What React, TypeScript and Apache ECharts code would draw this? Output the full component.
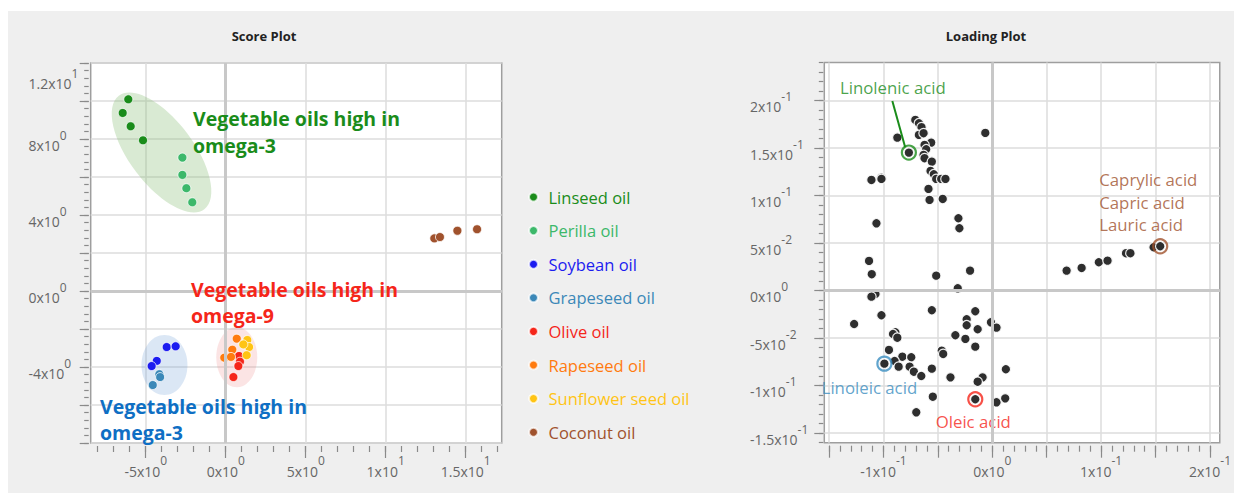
import React, { useEffect, useRef } from "react";
import * as echarts from "echarts";

const FONT = "'Open Sans', 'Noto Sans', sans-serif";

// ---------------- Score plot data ----------------
const oilNames = [
  "Linseed oil",
  "Perilla oil",
  "Soybean oil",
  "Grapeseed oil",
  "Olive oil",
  "Rapeseed oil",
  "Sunflower seed oil",
  "Coconut oil",
];
const oilColors = ["#1a8c1a", "#3cb86a", "#1c1cf0", "#3b88b8", "#f5261a", "#ff7b0f", "#ffc414", "#a0522d"];

const linseedOil = [[-6.09, 10.09], [-6.44, 9.37], [-5.94, 8.67], [-5.17, 7.93]];
const perillaOil = [[-2.71, 7.02], [-2.71, 6.11], [-2.46, 5.41], [-2.09, 4.67]];
const soybeanOil = [[-3.69, -2.95], [-3.13, -2.91], [-4.31, -3.68], [-4.63, -3.95]];
const grapeseedOil = [[-4.15, -4.38], [-4.1, -4.53], [-4.56, -4.95]];
const oliveOil = [[0.83, -3.42], [0.89, -3.72], [0.79, -3.95], [0.48, -4.53]];
const rapeseedOil = [[0.69, -2.51], [0.41, -3.09], [-0.09, -3.51], [0.33, -3.47]];
const sunflowerSeedOil = [[1.35, -2.58], [1.46, -2.95], [1.1, -2.81], [1.31, -3.38]];
const coconutOil = [[13.04, 2.77], [13.39, 2.84], [14.48, 3.17], [15.71, 3.25]];
const scoreSeriesData = [linseedOil, perillaOil, soybeanOil, grapeseedOil, oliveOil, rapeseedOil, sunflowerSeedOil, coconutOil];

// group ellipses: centre in data units
const ellipseCenters = [[-4.01, 7.29], [-3.83, -3.89], [0.69, -3.49]];

// ---------------- Loading plot data ----------------
const loadingPoints = [
  [-0.0707, 0.1797], [-0.0674, 0.1762], [-0.065, 0.172], [-0.0674, 0.1639], [-0.0631, 0.1657],
  [-0.0872, 0.1611], [-0.0064, 0.166], [-0.0561, 0.1558], [-0.0622, 0.1534], [-0.0607, 0.1488],
  [-0.0766, 0.1453], [-0.0631, 0.1428], [-0.0622, 0.1394], [-0.0555, 0.1358], [-0.0567, 0.126],
  [-0.0537, 0.1225], [-0.0515, 0.1176], [-0.0469, 0.1176], [-0.043, 0.1176], [-0.1018, 0.1189],
  [-0.111, 0.1165], [-0.1018, 0.1176], [-0.0586, 0.1071], [-0.0576, 0.0955], [-0.0455, 0.0965],
  [-0.1064, 0.0709], [-0.0311, 0.0762], [-0.0302, 0.0657],
  [-0.1132, 0.0313], [-0.1107, 0.0173], [-0.1073, -0.0035], [-0.111, -0.0063], [-0.0515, 0.0158],
  [-0.0204, 0.0211], [-0.0317, 0.0025], [-0.1269, -0.0351], [-0.1018, -0.0259], [-0.0555, -0.0206],
  [-0.0156, -0.0217], [-0.0235, -0.0301], [-0.0235, -0.0364], [-0.0134, -0.0406], [-0.0012, -0.0333],
  [0.0039, -0.0389], [-0.089, -0.0438], [-0.0912, -0.0456], [-0.0872, -0.0495], [-0.0339, -0.0469],
  [-0.0247, -0.0508], [-0.0156, -0.0589], [-0.0949, -0.0624], [-0.0464, -0.0632], [-0.0451, -0.0666],
  [-0.0826, -0.0695], [-0.0744, -0.0701], [-0.0991, -0.0768], [-0.0897, -0.074], [-0.086, -0.08],
  [-0.0759, -0.08], [-0.072, -0.0853], [-0.0652, -0.0898], [-0.0555, -0.0821], [-0.0384, -0.0912],
  [-0.0089, -0.0912], [-0.0134, -0.0958], [0.0125, -0.0827], [-0.0546, -0.1116], [-0.0156, -0.1143],
  [0.0039, -0.1175], [0.0119, -0.1133], [-0.0698, -0.128],
  [0.0683, 0.0211], [0.0821, 0.0239], [0.0979, 0.0299], [0.1059, 0.0316], [0.1229, 0.0394],
  [0.1269, 0.0394], [0.1482, 0.0457], [0.1543, 0.0467],
];

const acidNames = ["Linolenic acid", "Linoleic acid", "Oleic acid", "Caprylic acid\nCapric acid\nLauric acid"];
const acidPoints = [[-0.0766, 0.1453], [-0.0991, -0.0768], [-0.0156, -0.1143], [0.1543, 0.0467]];
const acidColors = ["#1a8c1a", "#3a8dc0", "#f5261a", "#a0522d"];
const linolenicLeader = [[-0.0918, 0.1996], [-0.08, 0.1509]];

// ---------------- Axes ----------------
const scoreXRange = [-8.44, 17.25];
const scoreYRange = [-8, 12];
const loadXRange = [-0.1543, 0.209];
const loadYRange = [-0.16, 0.2401];

const scoreXLabelValues = [-5, 0, 5, 10, 15];
const scoreXMajorTicks = [-5, 0, 5, 10, 15];
const scoreYLabelValues = [-4, 0, 4, 8, 12];
const scoreYMajorTicks = [-8, -6, -4, -2, 0, 2, 4, 6, 8, 10, 12];
const loadXLabelValues = [-0.1, 0, 0.1, 0.2];
const loadXMajorTicks = [-0.15, -0.1, -0.05, 0, 0.05, 0.1, 0.15, 0.2];
const loadYLabelValues = [-0.15, -0.1, -0.05, 0, 0.05, 0.1, 0.15, 0.2];
const loadYMajorTicks = [-0.15, -0.1, -0.05, 0, 0.05, 0.1, 0.15, 0.2];

function stepsBetween(lo: number, hi: number, step: number) {
  const out: number[] = [];
  const n = Math.round((hi - lo) / step);
  for (let i = 0; i <= n; i++) out.push(+(lo + i * step).toFixed(6));
  return out;
}
const scoreXMinorTicks = stepsBetween(-8, 17, 1);
const scoreYMinorTicks = stepsBetween(-8, 12, 0.4);
const loadXMinorTicks = stepsBetween(-0.15, 0.2, 0.01);
const loadYMinorTicks = stepsBetween(-0.16, 0.24, 0.01);

function sciParts(v: number): [string, string] {
  if (Math.abs(v) < 1e-12) return ["0", "0"];
  const e = Math.floor(Math.log10(Math.abs(v)) + 1e-9);
  const m = Math.round((v / Math.pow(10, e)) * 100) / 100;
  return [String(m), String(e)];
}

const LABEL_COLOR = "#666";
const TICK_COLOR = "#8a8a8a";
const GRID_COLOR = "#dcdcdc";

const richX = {
  b: { fontFamily: FONT, fontSize: 14, lineHeight: 14, padding: [13, 0, 0, 0], color: LABEL_COLOR },
  s: { fontFamily: FONT, fontSize: 12, lineHeight: 12, padding: [3, 0, 12, 0], color: LABEL_COLOR },
};
const richY = {
  b: { fontFamily: FONT, fontSize: 14, lineHeight: 14, padding: [12, 0, 0, 0], color: LABEL_COLOR },
  s: { fontFamily: FONT, fontSize: 12, lineHeight: 12, padding: [3, 0, 11, 0], color: LABEL_COLOR },
  bt: { fontFamily: FONT, fontSize: 14, lineHeight: 14, padding: [40, 0, 0, 0], color: LABEL_COLOR },
  st: { fontFamily: FONT, fontSize: 12, lineHeight: 12, padding: [31, 0, 11, 0], color: LABEL_COLOR },
};

const fmtX = (v: number) => {
  const [m, e] = sciParts(v);
  return `{b|${m}x10}{s|${e}}`;
};
const fmtY = (top: number) => (v: number) => {
  const [m, e] = sciParts(v);
  if (Math.abs(v - top) < 1e-9) return `{bt|${m}x10}{st|${e}}`;
  return `{b|${m}x10}{s|${e}}`;
};

function xAxes(gridIndex: number, range: number[], majors: number[], labels: number[], minors: number[], step: number) {
  return [
    {
      type: "value", gridIndex, min: range[0], max: range[1], position: "bottom", offset: 3,
      minInterval: step, maxInterval: step, splitNumber: 6,
      axisLine: { show: false, onZero: false },
      axisTick: { show: true, customValues: majors, length: 12, lineStyle: { color: TICK_COLOR, width: 1.2 } },
      axisLabel: { show: true, customValues: labels, formatter: fmtX, rich: richX, margin: 12 },
      splitLine: { show: true, lineStyle: { color: GRID_COLOR, width: 1.5 } },
    },
    {
      type: "value", gridIndex, min: range[0], max: range[1], position: "bottom", offset: 3,
      axisLine: { show: false, onZero: false },
      axisTick: { show: true, customValues: minors, length: 6, lineStyle: { color: TICK_COLOR, width: 1.2 } },
      axisLabel: { show: false },
      splitLine: { show: false },
    },
  ];
}
function yAxes(gridIndex: number, range: number[], majors: number[], labels: number[], minors: number[], step: number, margin: number, offset: number) {
  return [
    {
      type: "value", gridIndex, min: range[0], max: range[1], position: "left", offset,
      minInterval: step, maxInterval: step, splitNumber: 8,
      axisLine: { show: false, onZero: false },
      axisTick: { show: true, customValues: majors, length: 9, lineStyle: { color: TICK_COLOR, width: 1.2 } },
      axisLabel: { show: true, customValues: labels, formatter: fmtY(range[1] > 1 ? 12 : 999), rich: richY, margin, align: "left" },
      splitLine: { show: true, lineStyle: { color: GRID_COLOR, width: 1.5 } },
    },
    {
      type: "value", gridIndex, min: range[0], max: range[1], position: "left", offset,
      axisLine: { show: false, onZero: false },
      axisTick: { show: true, customValues: minors, length: 4.5, lineStyle: { color: TICK_COLOR, width: 1.2 } },
      axisLabel: { show: false },
      splitLine: { show: false },
    },
  ];
}

const ellipseStyles = [
  { rx: 71, ry: 32, tilt: 53, fill: "rgba(140,190,120,0.33)" },
  { rx: 23, ry: 30, tilt: 0, fill: "rgba(110,160,215,0.25)" },
  { rx: 20.5, ry: 30, tilt: 0, fill: "rgba(235,130,130,0.22)" },
];

const zeroLine = (xi: number, yi: number) => ({
  type: "line", xAxisIndex: xi, yAxisIndex: yi, data: [], z: 1, silent: true,
  markLine: {
    silent: true, symbol: ["none", "none"], label: { show: false },
    lineStyle: { color: "#c8c8c8", width: 3, type: "solid" },
    emphasis: { disabled: true },
    data: [{ xAxis: 0 }, { yAxis: 0 }],
  },
});

export default function App() {
  const ref = useRef<HTMLDivElement>(null);
  useEffect(() => {
    document.body.style.margin = "0";
    if (!ref.current) return;
    const chart = echarts.init(ref.current, undefined, { renderer: "svg" });

    const series: any[] = [];
    series.push({
      type: "custom", xAxisIndex: 0, yAxisIndex: 0, z: 1, silent: true,
      data: ellipseCenters,
      renderItem: (params: any, api: any) => {
        const st = ellipseStyles[params.dataIndex];
        const p = api.coord([api.value(0), api.value(1)]);
        return {
          type: "ellipse", x: p[0], y: p[1], rotation: (-st.tilt * Math.PI) / 180,
          shape: { cx: 0, cy: 0, rx: st.rx, ry: st.ry },
          style: { fill: st.fill },
        };
      },
    });
    series.push(zeroLine(0, 0));
    oilNames.forEach((name, i) => {
      series.push({
        name, type: "scatter", xAxisIndex: 0, yAxisIndex: 0, z: 3,
        data: scoreSeriesData[i], symbolSize: 9,
        itemStyle: { color: oilColors[i], borderColor: "rgba(255,255,255,0.75)", borderWidth: 1, opacity: 1 },
        emphasis: { disabled: true },
      });
    });
    series.push(zeroLine(2, 2));
    series.push({
      name: "Loadings", type: "scatter", xAxisIndex: 2, yAxisIndex: 2, z: 3,
      data: loadingPoints, symbolSize: 9.5,
      itemStyle: { color: "#2e2e2e", borderColor: "rgba(255,255,255,0.9)", borderWidth: 1.2, opacity: 1 },
      emphasis: { disabled: true },
    });
    const labelOffsets = [[-16, -65], [-15, 24], [-2, 22], [-61, -44]];
    series.push({
      name: "Acids", type: "scatter", xAxisIndex: 2, yAxisIndex: 2, z: 4, symbolSize: 14,
      emphasis: { disabled: true },
      data: acidPoints.map((p, i) => ({
        value: p,
        itemStyle: { color: "rgba(0,0,0,0)", borderColor: acidColors[i], borderWidth: 2.2 },
        label: {
          show: true, position: "inside", formatter: acidNames[i], color: acidColors[i],
          fontFamily: FONT, fontSize: 16.8, lineHeight: 22.5,
          offset: labelOffsets[i], align: i === 3 ? "left" : "center", verticalAlign: "middle",
        },
      })),
      markLine: {
        silent: true, symbol: ["none", "none"], label: { show: false },
        lineStyle: { color: acidColors[0], width: 2, type: "solid" },
        emphasis: { disabled: true },
        data: [[{ coord: linolenicLeader[0] }, { coord: linolenicLeader[1] }]],
      },
    });

    const option: any = {
      animation: false,
      backgroundColor: "#ffffff",
      textStyle: { fontFamily: FONT },
      grid: [
        { left: 90.7, top: 63, width: 411, height: 380, show: true, backgroundColor: "#fff", borderColor: "#9e9e9e", borderWidth: 1.5 },
        { left: 824.3, top: 62.5, width: 398, height: 380.2, show: true, backgroundColor: "#fff", borderColor: "#9e9e9e", borderWidth: 1.5 },
      ],
      xAxis: [
        ...xAxes(0, scoreXRange, scoreXMajorTicks, scoreXLabelValues, scoreXMinorTicks, 5),
        ...xAxes(1, loadXRange, loadXMajorTicks, loadXLabelValues, loadXMinorTicks, 0.05),
      ],
      yAxis: [
        ...yAxes(0, scoreYRange, scoreYMajorTicks, scoreYLabelValues, scoreYMinorTicks, 2, 60.2, 2),
        ...yAxes(1, loadYRange, loadYMajorTicks, loadYLabelValues, loadYMinorTicks, 0.05, 73.3, 1),
      ],
      legend: {
        orient: "vertical", left: 523, top: 182, icon: "circle",
        itemWidth: 20, itemHeight: 9, itemGap: 13.6, selectedMode: false,
        textStyle: { fontFamily: FONT, fontSize: 16.5, lineHeight: 20 },
        data: oilNames.map((n, i) => ({ name: n, textStyle: { color: oilColors[i] } })),
      },
      graphic: [
        { type: "rect", z: -10, silent: true, shape: { x: 8, y: 11, width: 1226, height: 482 }, style: { fill: "#efefef" } },
        { type: "text", x: 264, y: 36, silent: true, style: { text: "Score Plot", font: `bold 13px ${FONT}`, fill: "#222", align: "center", verticalAlign: "middle" } },
        { type: "text", x: 986, y: 36, silent: true, style: { text: "Loading Plot", font: `bold 13px ${FONT}`, fill: "#222", align: "center", verticalAlign: "middle" } },
        { type: "text", x: 193, y: 104.5, z: 10, silent: true, style: { text: "Vegetable oils high in\nomega-3", font: `bold 19.5px ${FONT}`, lineHeight: 27, fill: "#1a8c1a", align: "left", verticalAlign: "top" } },
        { type: "text", x: 191, y: 276, z: 10, silent: true, style: { text: "Vegetable oils high in\nomega-9", font: `bold 19.5px ${FONT}`, lineHeight: 26, fill: "#f5261a", align: "left", verticalAlign: "top" } },
        { type: "text", x: 100, y: 393, z: 10, silent: true, style: { text: "Vegetable oils high in\nomega-3", font: `bold 19.5px ${FONT}`, lineHeight: 26, fill: "#0f6fc4", align: "left", verticalAlign: "top" } },
      ],
      series,
    };
    chart.setOption(option);
    return () => chart.dispose();
  }, []);
  return <div ref={ref} style={{ width: 1234, height: 493 }} />;
}
